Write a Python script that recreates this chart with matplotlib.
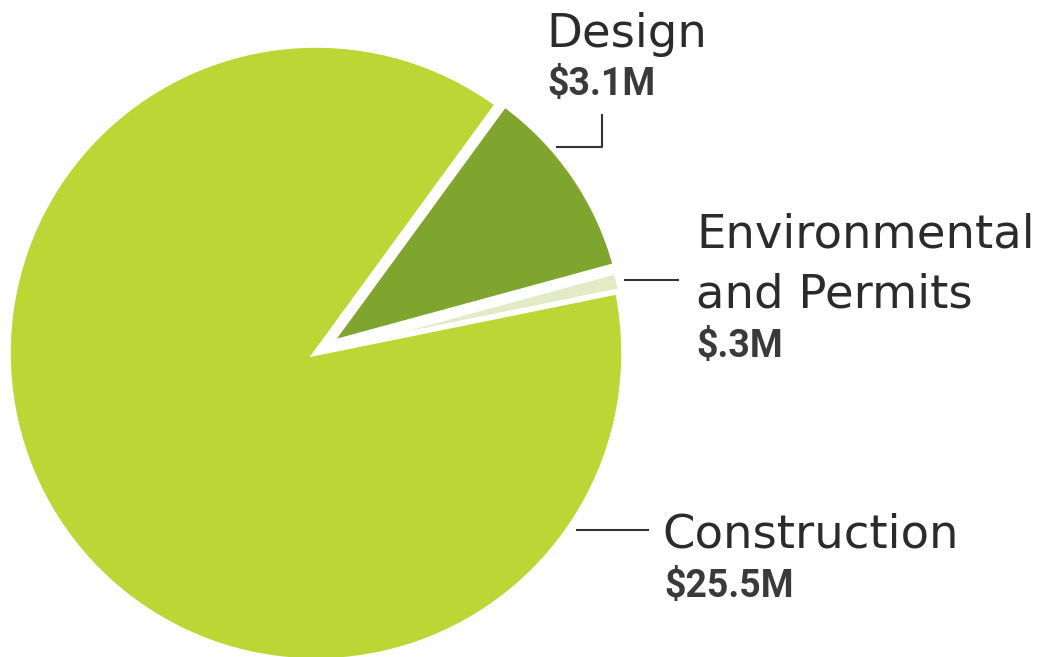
import matplotlib.pyplot as plt

# data
labels = ['Environmental\nand Permits', 'Design', 'Construction']
values = [0.3, 3.1, 25.5]
amounts = ['$.3M', '$3.1M', '$25.5M']
colors = ['#e3ebc6', '#7fa52e', '#bcd635']

H = 657
fig = plt.figure(figsize=(10.5, 6.57), dpi=100)
ax = fig.add_axes([0, 0, 1, 1])
ax.set_xlim(0, 1050)
ax.set_ylim(0, H)
ax.set_aspect('equal')
ax.axis('off')

wedges, _ = ax.pie(values, colors=colors, startangle=11.5, counterclock=True,
                   center=(316, H - 353), radius=308, explode=[3, 17, 0],
                   wedgeprops=dict(edgecolor='white', linewidth=4))
wedges[1].set_radius(296)
ax.set_xlim(0, 1050)
ax.set_ylim(0, H)

txt = '#2b2b2b'
bold = '#3a3a3a'
font = 'DejaVu Sans'
bfont = 'Roboto'
big = 33.5
small = 27

# Design
ax.text(546, H - 47, labels[1], fontsize=big, color=txt, family=font, va='baseline')
ax.text(547, H - 95, amounts[1], fontsize=small, color=bold, family=bfont,
        fontweight='bold', va='baseline')
ax.plot([602, 602, 557], [H - 115, H - 147, H - 147], color='#333333', lw=1.5)

# Environmental and Permits
ax.text(696, H - 248, 'Environmental', fontsize=big, color=txt, family=font, va='baseline')
ax.text(696, H - 307, 'and Permits', fontsize=big, color=txt, family=font, va='baseline')
ax.text(696, H - 357, amounts[0], fontsize=small, color=bold, family=bfont,
        fontweight='bold', va='baseline')
ax.plot([625, 678], [H - 280, H - 280], color='#333333', lw=1.5)

# Construction
ax.text(662, H - 548, labels[2], fontsize=big, color=txt, family=font, va='baseline')
ax.text(664, H - 597, amounts[2], fontsize=small, color=bold, family=bfont,
        fontweight='bold', va='baseline')
ax.plot([577, 648], [H - 530, H - 530], color='#333333', lw=1.5)

fig.savefig('out.png', dpi=100, facecolor='white')
